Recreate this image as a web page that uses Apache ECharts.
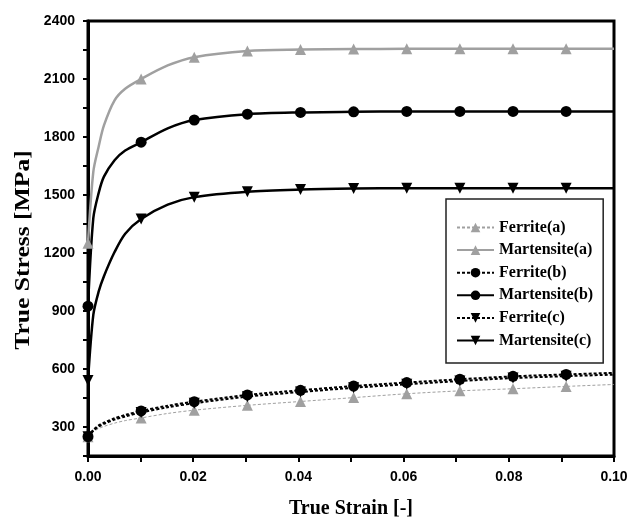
<!DOCTYPE html>
<html>
<head>
<meta charset="utf-8">
<script src="https://cdn.jsdelivr.net/npm/echarts@6/dist/echarts.min.js"></script>
<style>
  html, body { margin: 0; padding: 0; background: #fff; }
  #charts { width: 640px; height: 525px; }
</style>
</head>
<body>
<div id="charts"></div>
<script>
// strain samples (markers sit on every 10th sample of the original curve)
const strain = [0, 0.00101, 0.00202, 0.00303, 0.00505, 0.00707, 0.0101, 0.01515, 0.0202, 0.0303, 0.0404, 0.0505, 0.0606, 0.0707, 0.0808, 0.0909, 0.1];

const ferriteA     = [250, 275, 292, 303, 320, 333, 347, 370, 387, 412, 432, 452, 472, 487, 498, 510, 520];
const martensiteA  = [1250, 1620, 1750, 1860, 1990, 2050, 2100, 2170, 2213, 2245, 2252, 2255, 2256, 2256, 2256, 2256, 2256];
const ferriteB     = [250, 285, 308, 322, 345, 362, 383, 410, 431, 466, 490, 512, 530, 547, 562, 572, 580];
const martensiteB  = [925, 1380, 1510, 1595, 1680, 1730, 1773, 1845, 1888, 1918, 1927, 1930, 1932, 1932, 1932, 1932, 1932];
const ferriteC     = [250, 280, 302, 316, 338, 355, 375, 402, 423, 457, 481, 503, 521, 538, 553, 563, 571];
const martensiteC  = [540, 880, 1000, 1080, 1205, 1300, 1376, 1450, 1489, 1517, 1528, 1533, 1535, 1535, 1535, 1535, 1535];

const seriesNames = ['Ferrite(a)', 'Martensite(a)', 'Ferrite(b)', 'Martensite(b)', 'Ferrite(c)', 'Martensite(c)'];

const GRAY = '#a0a0a0';
const BLACK = '#000';

function pairs(ys) {
    return strain.map(function (x, i) { return [x, ys[i]]; });
}

// only every 10th original sample carries a marker
function markerSize(size) {
    return function (val) {
        return Math.round(val[0] * 990) % 10 === 0 ? size : 0;
    };
}

function makeSeries(name, ys, color, width, dashed, symbol, rotate, size) {
    return {
        name: name,
        type: 'line',
        smooth: 0.3,
        data: pairs(ys),
        symbol: symbol,
        symbolRotate: rotate,
        symbolSize: markerSize(size),
        showSymbol: true,
        showAllSymbol: true,
        itemStyle: { color: color },
        lineStyle: { color: color, width: width, type: dashed ? [3, 2] : 'solid' },
        emphasis: { disabled: true },
        z: dashed ? 2 : 3
    };
}

let myCharts = echarts.init(document.getElementById('charts'), null, { renderer: 'canvas' });
myCharts.setOption({
    animation: false,
    backgroundColor: '#fff',
    grid: {
        left: 88,
        right: 26,
        top: 21,
        bottom: 69,
        show: true,
        borderColor: '#000',
        borderWidth: 3
    },
    legend: {
        orient: 'vertical',
        left: 446,
        top: 199,
        data: seriesNames,
        itemWidth: 37,
        itemHeight: 12,
        itemGap: 5.6,
        padding: [20, 10, 14, 10],
        borderColor: '#222',
        borderWidth: 1.5,
        backgroundColor: '#fff',
        textStyle: {
            fontFamily: 'Liberation Serif',
            fontWeight: 'bold',
            fontSize: 16,
            lineHeight: 17,
            color: '#000'
        }
    },
    xAxis: {
        type: 'value',
        min: 0,
        max: 0.1,
        interval: 0.01,
        name: 'True Strain [-]',
        nameLocation: 'middle',
        nameGap: 43,
        nameTextStyle: {
            fontFamily: 'Liberation Serif',
            fontWeight: 'bold',
            fontSize: 20,
            color: '#000'
        },
        splitLine: { show: false },
        axisLine: { onZero: false, lineStyle: { color: '#000', width: 3 } },
        axisTick: { inside: false, length: 6, lineStyle: { color: '#000', width: 2 } },
        axisLabel: {
            margin: 14,
            fontFamily: 'Liberation Sans',
            fontWeight: 'bold',
            fontSize: 14,
            color: '#000',
            formatter: function (v) {
                return Math.round(v * 100) % 2 === 0 ? v.toFixed(2) : '';
            }
        }
    },
    yAxis: {
        type: 'value',
        min: 150,
        max: 2400,
        interval: 150,
        splitLine: { show: false },
        axisLine: { onZero: false, lineStyle: { color: '#000', width: 3 } },
        axisTick: { inside: false, length: 5, lineStyle: { color: '#000', width: 2 } },
        axisLabel: {
            margin: 13,
            fontFamily: 'Liberation Sans',
            fontWeight: 'bold',
            fontSize: 14,
            color: '#000',
            formatter: function (v) {
                return v % 300 === 0 ? String(v) : '';
            }
        }
    },
    graphic: [
        {
            type: 'text',
            x: 24,
            y: 250,
            rotation: Math.PI / 2,
            scaleX: 1.28,
            style: {
                text: 'True Stress [MPa]',
                fontFamily: 'Liberation Serif',
                fontWeight: 'bold',
                fontSize: 20,
                fill: '#000',
                align: 'center',
                verticalAlign: 'middle'
            }
        }
    ],
    series: [
        makeSeries('Ferrite(a)', ferriteA, GRAY, 1, true, 'triangle', 0, 11),
        makeSeries('Martensite(a)', martensiteA, GRAY, 2.5, false, 'triangle', 0, 11),
        makeSeries('Ferrite(b)', ferriteB, BLACK, 2, true, 'circle', 0, 11),
        makeSeries('Martensite(b)', martensiteB, BLACK, 2.5, false, 'circle', 0, 11),
        makeSeries('Ferrite(c)', ferriteC, BLACK, 2, true, 'triangle', 180, 11),
        makeSeries('Martensite(c)', martensiteC, BLACK, 2.5, false, 'triangle', 180, 11)
    ]
});
</script>
</body>
</html>
